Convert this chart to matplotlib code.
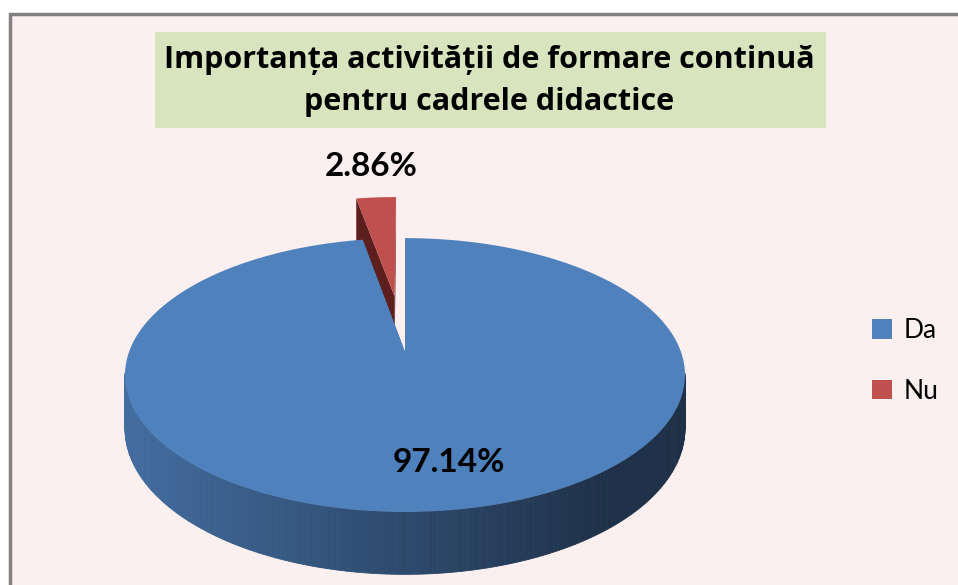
import numpy as np
import matplotlib.pyplot as plt
from matplotlib.patches import Polygon, Rectangle, Patch

labels = ['Da', 'Nu']
values = [97.14, 2.86]
colors = ['#4f81bd', '#c0504d']
side_colors = ['#3a5f8c', '#5c1f1e']
pct_labels = ['97.14%', '2.86%']
explode = [0.0, 0.45]
title_lines = ['Importanța activității de formare continuă',
               'pentru cadrele didactice']

W, H = 958, 585
fig = plt.figure(figsize=(W / 100, H / 100), dpi=100)
ax = fig.add_axes([0, 0, 1, 1])
ax.set_xlim(0, W)
ax.set_ylim(H, 0)
ax.axis('off')

# chart area with grey frame
ax.add_patch(Rectangle((10, 14), W + 20, H + 20, facecolor='#fbeff0',
                       edgecolor='#808080', lw=2.5, zorder=0))

# title box
ax.add_patch(Rectangle((155, 32), 671, 96, facecolor='#d7e4bd',
                       edgecolor='none', zorder=1))
for line, yb in zip(title_lines, [68, 110]):
    ax.text(489, yb, line, ha='center', va='baseline', fontsize=22,
            fontweight='bold', family='Open Sans', zorder=2)

# 3d pie, simple perspective projection of a disc
cx, cy = 405, 352
R, B, D, k = 276, 133, 52, 0.168


def proj(u, v, z=0.0):
    s = 1.0 / (1.0 + k * v)
    return cx + R * u * s, cy - B * v * s + D * z * s


def shade(c, f):
    rgb = np.array(plt.matplotlib.colors.to_rgb(c))
    return tuple(rgb * f)


frac = np.array(values) / np.sum(values)
ends = 90 - 360 * np.cumsum(frac)
starts = np.concatenate([[90], ends[:-1]])

# draw back slices first
order = sorted(range(len(values)),
               key=lambda i: -np.sin(np.radians((starts[i] + ends[i]) / 2)))

xl = proj(-1, 0)[0]
xr = proj(1, 0)[0]

for i in order:
    a, b = starts[i], ends[i]
    mid = np.radians((a + b) / 2)
    du, dv = explode[i] * np.cos(mid), explode[i] * np.sin(mid)
    t = np.radians(np.linspace(a, b, 400))

    # radial side faces
    for ang in (a, b):
        r = np.radians(ang)
        p = [proj(du, dv, 0), proj(du + np.cos(r), dv + np.sin(r), 0),
             proj(du + np.cos(r), dv + np.sin(r), 1), proj(du, dv, 1)]
        ax.add_patch(Polygon(p, closed=True, facecolor=side_colors[i],
                             edgecolor='none', zorder=3))

    # outer wall, only the part that faces the viewer
    vis = np.sin(t) < -k + 0.02
    for j in range(len(t) - 1):
        if not (vis[j] and vis[j + 1]):
            continue
        u0, v0 = du + np.cos(t[j]), dv + np.sin(t[j])
        u1, v1 = du + np.cos(t[j + 1]), dv + np.sin(t[j + 1])
        p = [proj(u0, v0, 0), proj(u1, v1, 0), proj(u1, v1, 1), proj(u0, v0, 1)]
        xf = (p[0][0] - xl) / (xr - xl)
        f = 0.84 - 0.46 * min(1.0, xf * 1.15)
        ax.add_patch(Polygon(p, closed=True, facecolor=shade(colors[i], f),
                             edgecolor=shade(colors[i], f), lw=0.6, zorder=3))

    # top face
    pts = [proj(du, dv, 0)] + [proj(du + np.cos(x), dv + np.sin(x), 0) for x in t]
    ax.add_patch(Polygon(pts, closed=True, facecolor=colors[i],
                         edgecolor='none', zorder=3))

# data labels
ax.text(449, 462, pct_labels[0], ha='center', va='center', fontsize=24,
        fontweight='bold', family='Lato', zorder=5)
ax.text(371, 166, pct_labels[1], ha='center', va='center', fontsize=24,
        fontweight='bold', family='Lato', zorder=5)

handles = [Patch(facecolor=c, edgecolor='none') for c in colors]
ax.legend(handles, labels, loc='center left',
          bbox_to_anchor=(848 / W, 1 - 361 / H), frameon=False,
          prop={'family': 'Lato', 'size': 19}, handlelength=0.76,
          handleheight=0.76, handletextpad=0.45, labelspacing=1.35,
          borderpad=0.4)

fig.savefig('out.png', dpi=100)
